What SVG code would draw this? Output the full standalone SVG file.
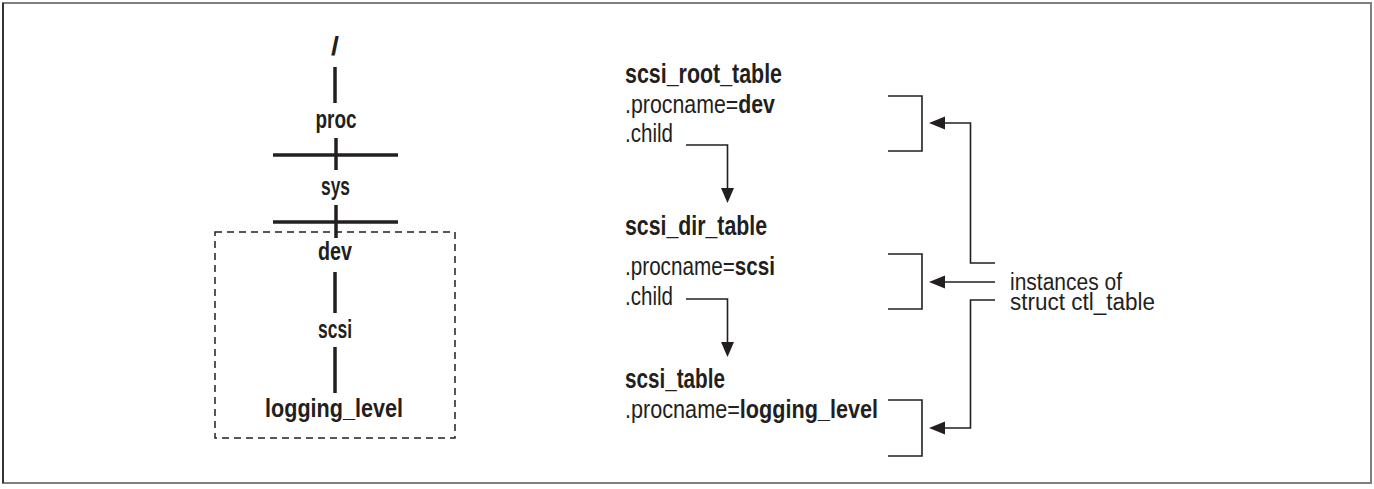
<svg xmlns="http://www.w3.org/2000/svg" width="1374" height="489" viewBox="0 0 1374 489">
<defs>
<style>
.t{font-family:"Liberation Sans",Arial,sans-serif;fill:#231f20}
.b{font-weight:bold}
.tree{font-size:26px;text-anchor:middle;font-weight:bold}
.h{font-size:27px}
.r{font-size:25px}
.lab{font-size:23px}
.thick{stroke:#231f20;stroke-width:3.5;fill:none}
.thin{stroke:#231f20;stroke-width:1.6;fill:none}
.ah{fill:#231f20}
</style>
</defs>
<rect x="0" y="0" width="1374" height="489" fill="#fff"/>
<rect x="3" y="3" width="1368" height="480" fill="none" stroke="#7f7f7f" stroke-width="2"/>
<line x1="3" y1="3" x2="3" y2="483" stroke="#000" stroke-width="1.2"/>

<g id="tree">
  <g id="n-root"><text class="t tree" x="335" y="55" textLength="8" lengthAdjust="spacingAndGlyphs">/</text></g>
  <g id="n-proc"><text class="t tree" x="336" y="128" textLength="41" lengthAdjust="spacingAndGlyphs">proc</text></g>
  <g id="n-sys"><text class="t tree" x="335.5" y="195" textLength="29" lengthAdjust="spacingAndGlyphs">sys</text></g>
  <g id="n-dev"><text class="t tree" x="335" y="260" textLength="34" lengthAdjust="spacingAndGlyphs">dev</text></g>
  <g id="n-scsi"><text class="t tree" x="335" y="338" textLength="34" lengthAdjust="spacingAndGlyphs">scsi</text></g>
  <g id="n-logging"><text class="t tree" x="334" y="417" textLength="138" lengthAdjust="spacingAndGlyphs">logging_level</text></g>
  <rect id="selection" x="215" y="232" width="240" height="206" fill="none" stroke="#231f20" stroke-width="1.5" stroke-dasharray="7 5"/>
</g>

<g id="tables">
  <g id="scsi_root_table">
    <text class="t h b" x="625" y="83" textLength="157" lengthAdjust="spacingAndGlyphs">scsi_root_table</text>
    <text class="t r" x="625" y="113" textLength="150" lengthAdjust="spacingAndGlyphs">.procname=<tspan class="b">dev</tspan></text>
    <text class="t r" x="625" y="142" textLength="48" lengthAdjust="spacingAndGlyphs">.child</text>
    <path class="thin" d="M888 96 H922 V151 H888"/>
  </g>
  <g id="scsi_dir_table">
    <text class="t h b" x="625" y="235" textLength="142" lengthAdjust="spacingAndGlyphs">scsi_dir_table</text>
    <text class="t r" x="625" y="275" textLength="150" lengthAdjust="spacingAndGlyphs">.procname=<tspan class="b">scsi</tspan></text>
    <text class="t r" x="625" y="305" textLength="48" lengthAdjust="spacingAndGlyphs">.child</text>
    <path class="thin" d="M888 254 H922 V309 H888"/>
  </g>
  <g id="scsi_table">
    <text class="t h b" x="625" y="388" textLength="100" lengthAdjust="spacingAndGlyphs">scsi_table</text>
    <text class="t r" x="625" y="418" textLength="253" lengthAdjust="spacingAndGlyphs">.procname=<tspan class="b">logging_level</tspan></text>
    <path class="thin" d="M888 400 H922 V456 H888"/>
  </g>
  <g id="label-instances">
    <text class="t lab"><tspan x="1010" y="290" textLength="112" lengthAdjust="spacingAndGlyphs">instances of</tspan><tspan x="1010" y="310" textLength="145" lengthAdjust="spacingAndGlyphs">struct ctl_table</tspan></text>
  </g>
</g>

<g id="connectors">
  <line class="thick" x1="335" y1="67" x2="335" y2="103"/>
  <line class="thick" x1="336" y1="138" x2="336" y2="170"/>
  <line class="thick" x1="273" y1="155" x2="398" y2="155"/>
  <line class="thick" x1="336" y1="205" x2="336" y2="238"/>
  <line class="thick" x1="273" y1="222" x2="398" y2="222"/>
  <line class="thick" x1="335" y1="272" x2="335" y2="313"/>
  <line class="thick" x1="335" y1="347" x2="335" y2="393"/>

  <path class="thin" d="M686 145 H727.5 V189"/>
  <polygon class="ah" points="721,188 734,188 727.5,203"/>
  <path class="thin" d="M686 299 H727.5 V343"/>
  <polygon class="ah" points="721,342 734,342 727.5,357"/>

  <path class="thin" d="M995 263 H970.5 V123 H944"/>
  <polygon class="ah" points="945,116.5 945,129.5 929,123"/>
  <path class="thin" d="M995 282 H944"/>
  <polygon class="ah" points="945,275.5 945,288.5 929,282"/>
  <path class="thin" d="M995 300 H970.5 V428 H944"/>
  <polygon class="ah" points="945,421.5 945,434.5 929,428"/>
</g>
</svg>
